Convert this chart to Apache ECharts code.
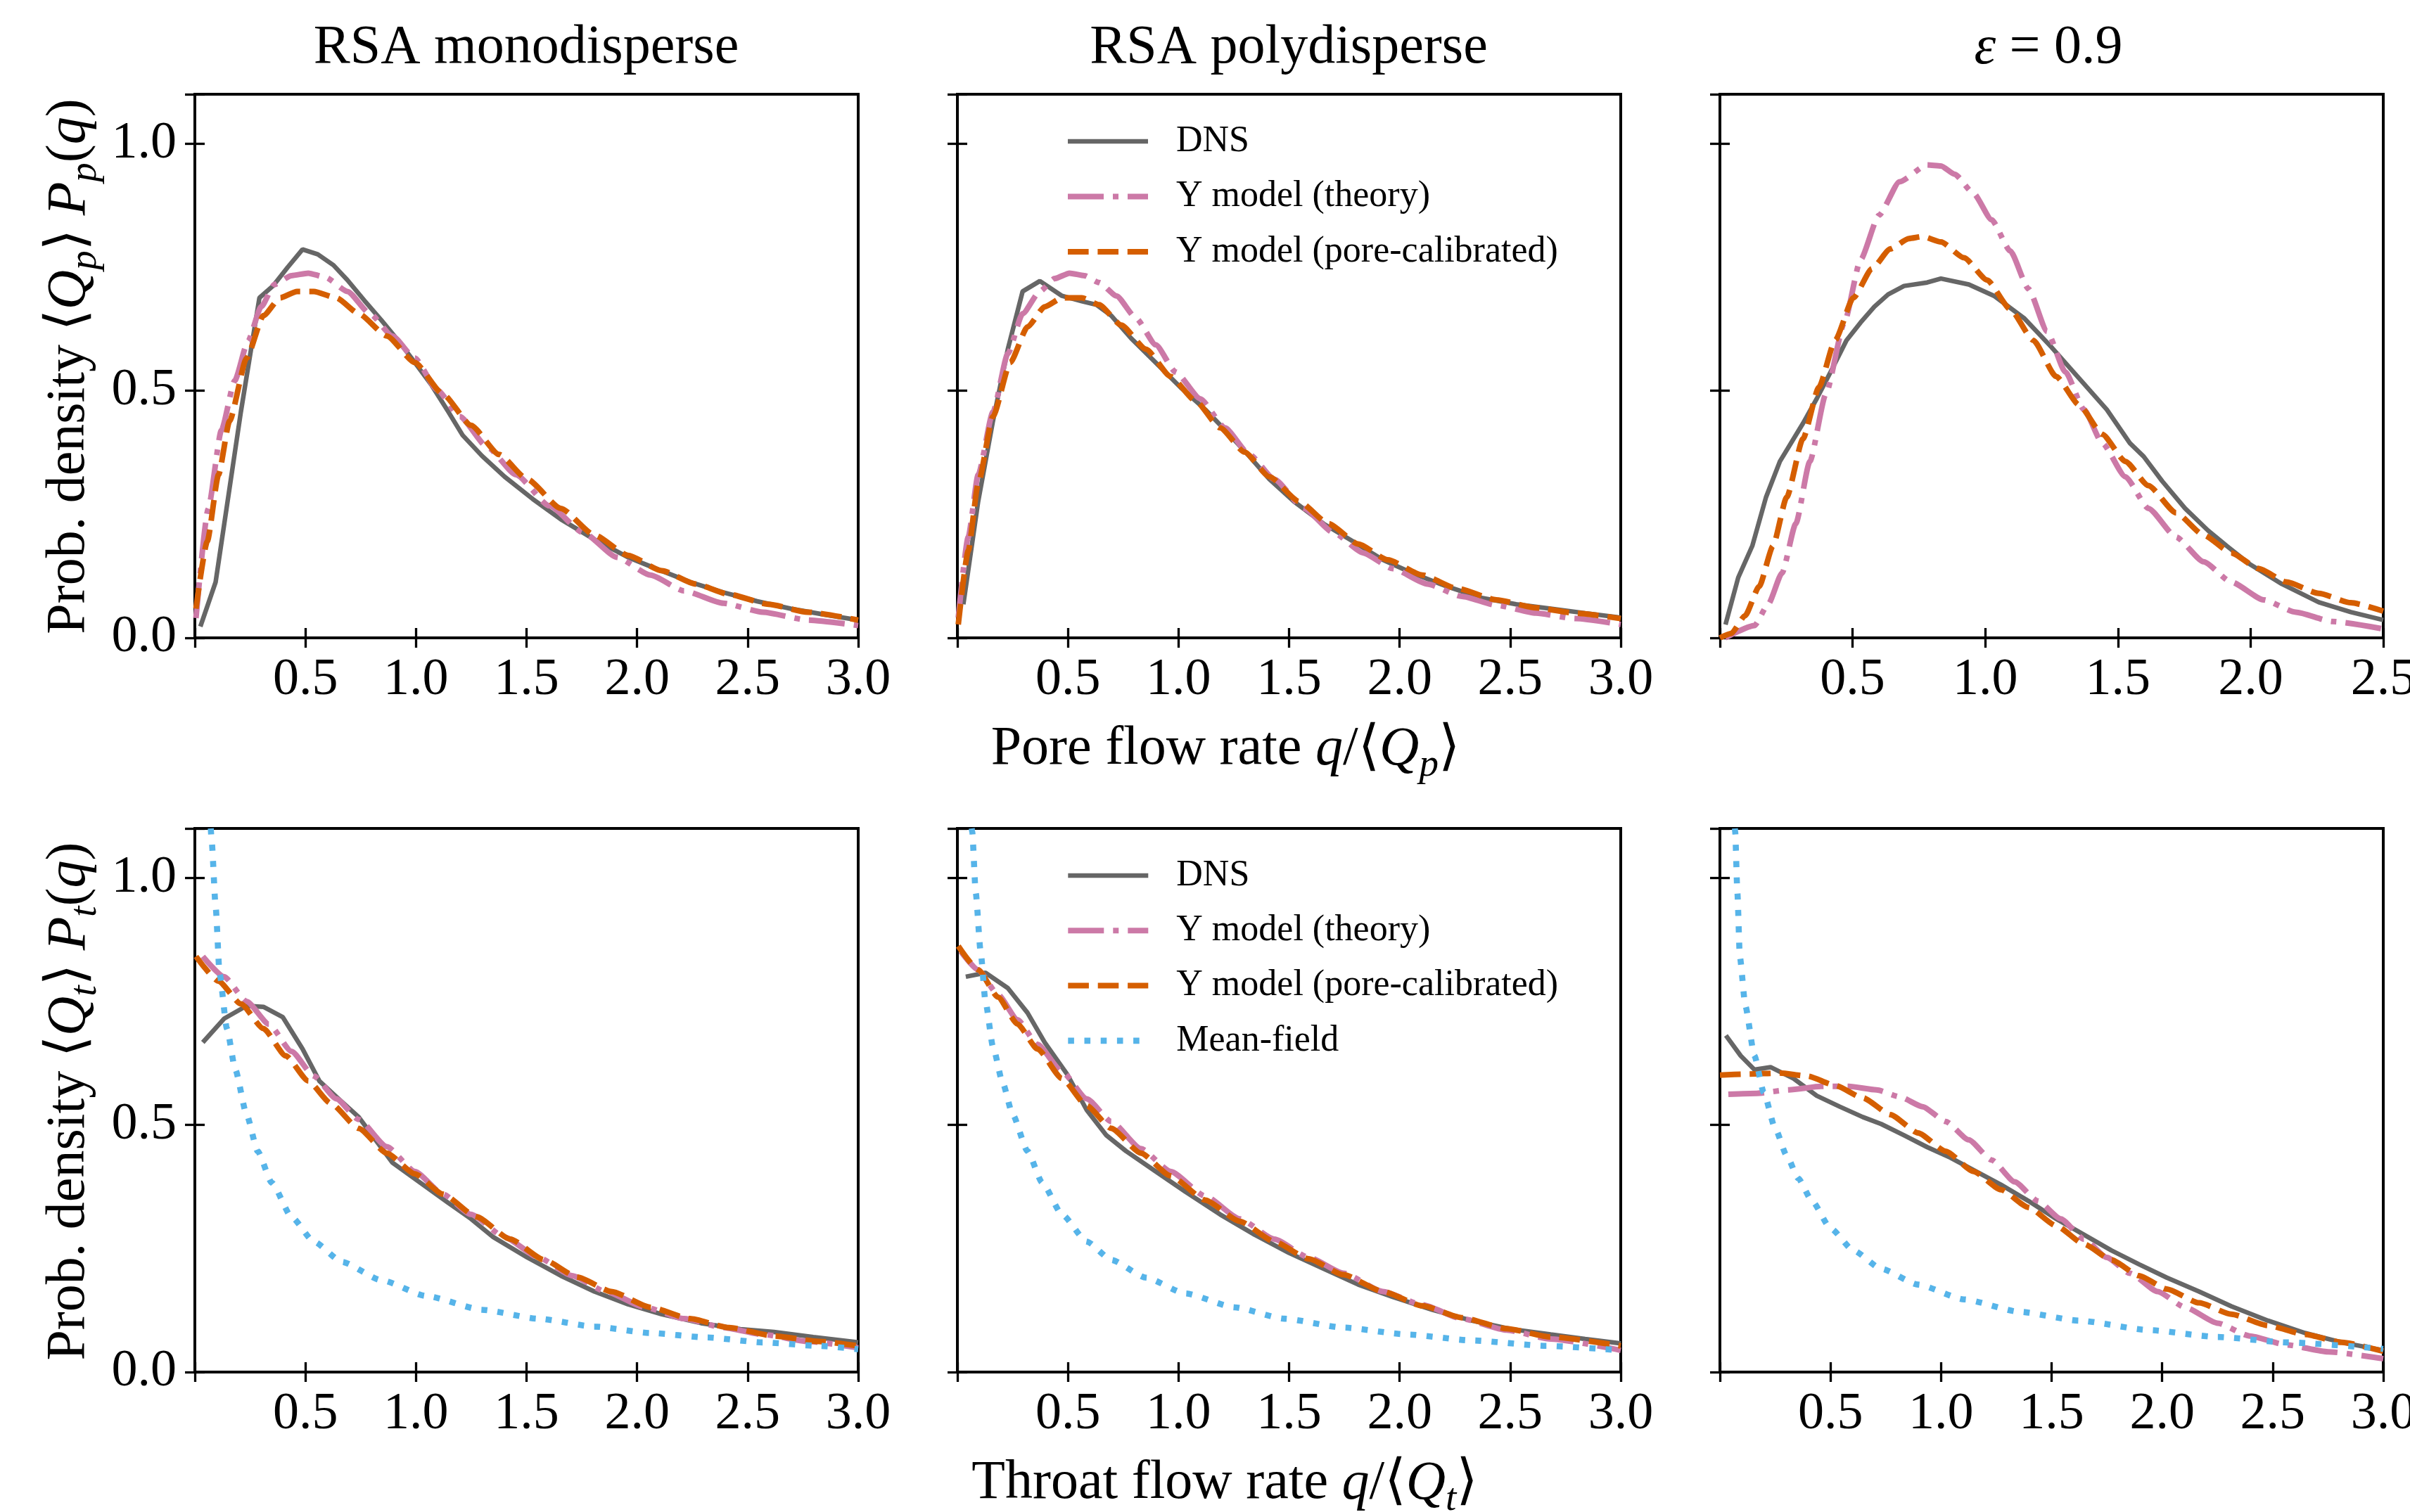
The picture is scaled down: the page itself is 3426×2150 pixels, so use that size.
<!DOCTYPE html>
<html><head><meta charset="utf-8">
<script src="https://cdn.jsdelivr.net/npm/echarts@6/dist/echarts.min.js"></script>
<style>html,body{margin:0;padding:0;background:#fff}#c{width:3426px;height:2150px}</style>
</head><body><div id="c"></div>
<script>
// ---------------- DATA ----------------
const columnTitles = ['RSA monodisperse', 'RSA polydisperse', 'ε = 0.9'];
const seriesNames = ['DNS', 'Y model (theory)', 'Y model (pore-calibrated)', 'Mean-field'];
const xTicksPore = [0.5, 1.0, 1.5, 2.0, 2.5, 3.0];
const yTicks = [0.0, 0.5, 1.0];

// Pore flow rate, RSA monodisperse
const monoPoreDNS = [[0.025,0.023],[0.094,0.113],[0.208,0.457],[0.292,0.688],[0.353,0.712],[0.42,0.75],[0.487,0.786],[0.556,0.776],[0.627,0.754],[0.69,0.724],[0.766,0.683],[0.843,0.643],[0.919,0.602],[0.995,0.557],[1.071,0.511],[1.147,0.457],[1.211,0.41],[1.299,0.368],[1.401,0.326],[1.528,0.281],[1.655,0.24],[1.807,0.199],[1.959,0.163],[2.086,0.14],[2.239,0.113],[2.39,0.092],[2.543,0.074],[2.695,0.059],[2.848,0.047],[3.0,0.036]];
const monoPoreTheory = [[0.005,0.04],[0.06,0.26],[0.12,0.42],[0.18,0.52],[0.24,0.6],[0.3,0.67],[0.36,0.715],[0.437,0.733],[0.513,0.738],[0.589,0.73],[0.69,0.701],[0.792,0.656],[0.893,0.611],[0.995,0.566],[1.096,0.502],[1.198,0.448],[1.325,0.385],[1.452,0.33],[1.604,0.267],[1.756,0.213],[1.909,0.163],[2.061,0.127],[2.213,0.095],[2.39,0.07],[2.569,0.052],[2.772,0.036],[3.0,0.025]];
const monoPoreCalib = [[0.005,0.059],[0.056,0.195],[0.107,0.33],[0.157,0.439],[0.234,0.566],[0.31,0.652],[0.386,0.688],[0.462,0.701],[0.538,0.701],[0.64,0.688],[0.741,0.656],[0.868,0.611],[0.995,0.557],[1.122,0.493],[1.249,0.43],[1.376,0.371],[1.503,0.321],[1.655,0.262],[1.807,0.208],[1.959,0.167],[2.112,0.136],[2.264,0.109],[2.416,0.088],[2.594,0.068],[2.772,0.052],[3.0,0.036]];

// Pore flow rate, RSA polydisperse
const polyPoreDNS = [[0.027,0.068],[0.094,0.276],[0.161,0.439],[0.228,0.584],[0.295,0.701],[0.373,0.722],[0.473,0.692],[0.563,0.681],[0.629,0.674],[0.696,0.652],[0.786,0.606],[0.897,0.557],[1.009,0.507],[1.121,0.462],[1.21,0.421],[1.321,0.367],[1.411,0.321],[1.522,0.276],[1.656,0.231],[1.79,0.195],[1.924,0.158],[2.058,0.131],[2.214,0.104],[2.371,0.081],[2.527,0.068],[2.683,0.059],[2.839,0.05],[3.0,0.041]];
const polyPoreTheory = [[0.004,0.041],[0.049,0.204],[0.094,0.33],[0.161,0.457],[0.228,0.575],[0.295,0.656],[0.373,0.701],[0.44,0.727],[0.507,0.738],[0.574,0.733],[0.641,0.719],[0.719,0.692],[0.808,0.647],[0.897,0.593],[0.987,0.538],[1.098,0.484],[1.21,0.425],[1.321,0.371],[1.433,0.321],[1.567,0.262],[1.701,0.213],[1.835,0.172],[1.969,0.14],[2.125,0.109],[2.281,0.084],[2.438,0.066],[2.616,0.05],[2.795,0.039],[3.0,0.027]];
const polyPoreCalib = [[0.004,0.027],[0.049,0.176],[0.094,0.312],[0.161,0.448],[0.239,0.557],[0.317,0.629],[0.395,0.67],[0.473,0.688],[0.563,0.688],[0.641,0.674],[0.741,0.633],[0.853,0.584],[0.964,0.529],[1.076,0.48],[1.188,0.425],[1.299,0.376],[1.411,0.326],[1.545,0.276],[1.679,0.231],[1.813,0.19],[1.946,0.158],[2.103,0.127],[2.259,0.1],[2.438,0.077],[2.616,0.061],[2.795,0.05],[3.0,0.039]];

// Pore flow rate, eps = 0.9
const epsPoreDNS = [[0.021,0.027],[0.069,0.122],[0.122,0.186],[0.174,0.285],[0.226,0.357],[0.313,0.434],[0.365,0.484],[0.417,0.538],[0.477,0.602],[0.53,0.638],[0.582,0.67],[0.634,0.695],[0.694,0.712],[0.781,0.719],[0.833,0.727],[0.938,0.715],[1.033,0.692],[1.146,0.647],[1.25,0.588],[1.354,0.525],[1.458,0.462],[1.545,0.394],[1.597,0.367],[1.667,0.317],[1.753,0.262],[1.84,0.217],[1.91,0.186],[1.997,0.149],[2.118,0.109],[2.257,0.072],[2.378,0.052],[2.5,0.036]];
const epsPoreTheory = [[0.02,0.0],[0.13,0.025],[0.182,0.068],[0.234,0.131],[0.286,0.231],[0.339,0.357],[0.399,0.493],[0.469,0.638],[0.53,0.765],[0.599,0.855],[0.677,0.923],[0.781,0.957],[0.833,0.955],[0.885,0.938],[0.955,0.9],[1.024,0.846],[1.094,0.783],[1.163,0.706],[1.233,0.62],[1.302,0.538],[1.372,0.462],[1.441,0.394],[1.528,0.326],[1.615,0.262],[1.719,0.204],[1.823,0.154],[1.927,0.113],[2.049,0.077],[2.17,0.052],[2.309,0.033],[2.5,0.018]];
const epsPoreCalib = [[0.0,0.0],[0.043,0.009],[0.095,0.045],[0.148,0.104],[0.2,0.186],[0.252,0.285],[0.313,0.403],[0.373,0.507],[0.434,0.602],[0.503,0.688],[0.573,0.747],[0.642,0.787],[0.712,0.808],[0.764,0.812],[0.833,0.801],[0.92,0.769],[1.007,0.724],[1.094,0.665],[1.181,0.602],[1.267,0.529],[1.354,0.471],[1.441,0.412],[1.528,0.357],[1.615,0.308],[1.719,0.253],[1.823,0.208],[1.927,0.172],[2.031,0.14],[2.135,0.113],[2.257,0.09],[2.378,0.071],[2.5,0.054]];

// Throat flow rate, RSA monodisperse
const monoThroatDNS = [[0.036,0.667],[0.132,0.715],[0.234,0.741],[0.31,0.739],[0.398,0.718],[0.487,0.654],[0.563,0.589],[0.64,0.557],[0.741,0.516],[0.817,0.47],[0.893,0.424],[1.02,0.383],[1.147,0.342],[1.249,0.31],[1.35,0.273],[1.503,0.232],[1.655,0.195],[1.807,0.163],[1.959,0.137],[2.112,0.117],[2.289,0.099],[2.467,0.087],[2.619,0.081],[2.797,0.071],[3.0,0.06]];
const monoThroatTheory = [[0.036,0.841],[0.132,0.8],[0.234,0.75],[0.335,0.704],[0.437,0.649],[0.538,0.599],[0.64,0.553],[0.741,0.511],[0.868,0.456],[0.995,0.406],[1.122,0.36],[1.249,0.319],[1.401,0.273],[1.553,0.232],[1.706,0.195],[1.858,0.163],[2.036,0.131],[2.213,0.108],[2.39,0.09],[2.569,0.076],[2.772,0.062],[3.0,0.049]];
const monoThroatCalib = [[0.005,0.841],[0.107,0.791],[0.208,0.745],[0.31,0.695],[0.411,0.64],[0.513,0.589],[0.614,0.544],[0.741,0.493],[0.868,0.443],[0.995,0.401],[1.122,0.36],[1.274,0.314],[1.426,0.269],[1.579,0.227],[1.731,0.192],[1.883,0.163],[2.061,0.131],[2.239,0.108],[2.416,0.09],[2.619,0.073],[2.822,0.062],[3.0,0.053]];
const monoThroatMF = [[0.072,1.1],[0.076,1.075],[0.094,0.942],[0.112,0.805],[0.145,0.695],[0.183,0.612],[0.234,0.521],[0.284,0.447],[0.348,0.383],[0.437,0.314],[0.538,0.264],[0.665,0.223],[0.843,0.186],[1.046,0.154],[1.299,0.126],[1.553,0.108],[1.807,0.092],[2.061,0.079],[2.315,0.07],[2.569,0.06],[2.822,0.053],[3.0,0.046]];

// Throat flow rate, RSA polydisperse
const polyThroatDNS = [[0.038,0.8],[0.127,0.808],[0.228,0.777],[0.317,0.727],[0.395,0.667],[0.496,0.603],[0.585,0.53],[0.674,0.479],[0.763,0.447],[0.897,0.406],[1.031,0.365],[1.188,0.319],[1.344,0.278],[1.5,0.241],[1.656,0.209],[1.813,0.177],[1.969,0.152],[2.147,0.126],[2.326,0.104],[2.504,0.087],[2.683,0.076],[2.839,0.067],[3.0,0.058]];
const polyThroatTheory = [[0.016,0.851],[0.094,0.814],[0.183,0.764],[0.272,0.713],[0.362,0.663],[0.473,0.608],[0.585,0.553],[0.696,0.507],[0.83,0.452],[0.964,0.406],[1.121,0.356],[1.277,0.31],[1.433,0.269],[1.589,0.232],[1.746,0.2],[1.924,0.163],[2.103,0.136],[2.281,0.108],[2.482,0.085],[2.683,0.067],[3.0,0.044]];
const polyThroatCalib = [[0.004,0.862],[0.094,0.814],[0.183,0.759],[0.272,0.704],[0.362,0.654],[0.473,0.594],[0.585,0.539],[0.696,0.493],[0.83,0.443],[0.964,0.397],[1.121,0.348],[1.277,0.305],[1.433,0.264],[1.589,0.229],[1.746,0.197],[1.924,0.163],[2.103,0.134],[2.281,0.11],[2.482,0.088],[2.683,0.071],[3.0,0.053]];
const polyThroatMF = [[0.065,1.1],[0.067,1.093],[0.083,0.97],[0.105,0.851],[0.127,0.75],[0.161,0.658],[0.205,0.585],[0.25,0.521],[0.317,0.447],[0.384,0.383],[0.473,0.319],[0.585,0.264],[0.696,0.227],[0.853,0.191],[1.031,0.159],[1.254,0.131],[1.478,0.108],[1.746,0.09],[2.036,0.076],[2.326,0.064],[2.661,0.053],[3.0,0.044]];

// Throat flow rate, eps = 0.9
const epsThroatDNS = [[0.027,0.681],[0.094,0.64],[0.156,0.612],[0.229,0.617],[0.333,0.594],[0.438,0.559],[0.542,0.537],[0.646,0.516],[0.729,0.502],[0.833,0.479],[0.938,0.455],[1.042,0.434],[1.146,0.409],[1.271,0.379],[1.396,0.346],[1.521,0.31],[1.646,0.278],[1.771,0.246],[1.896,0.218],[2.021,0.191],[2.167,0.163],[2.313,0.133],[2.479,0.104],[2.646,0.079],[2.813,0.06],[3.0,0.044]];
const epsThroatTheory = [[0.038,0.562],[0.167,0.564],[0.313,0.571],[0.458,0.578],[0.583,0.578],[0.708,0.571],[0.813,0.557],[0.917,0.537],[1.021,0.507],[1.125,0.47],[1.229,0.429],[1.333,0.385],[1.438,0.346],[1.542,0.31],[1.646,0.269],[1.75,0.232],[1.854,0.2],[1.979,0.163],[2.104,0.131],[2.25,0.099],[2.396,0.073],[2.563,0.055],[2.75,0.041],[3.0,0.027]];
const epsThroatCalib = [[0.0,0.601],[0.125,0.603],[0.271,0.605],[0.396,0.599],[0.521,0.58],[0.646,0.555],[0.771,0.521],[0.896,0.484],[1.021,0.447],[1.146,0.406],[1.271,0.369],[1.396,0.333],[1.521,0.296],[1.646,0.259],[1.771,0.227],[1.896,0.195],[2.021,0.168],[2.167,0.14],[2.313,0.117],[2.479,0.094],[2.646,0.076],[2.813,0.06],[3.0,0.042]];
const epsThroatMF = [[0.068,1.1],[0.069,1.093],[0.079,0.97],[0.09,0.841],[0.115,0.741],[0.156,0.64],[0.198,0.566],[0.25,0.493],[0.302,0.438],[0.354,0.392],[0.417,0.346],[0.5,0.291],[0.604,0.246],[0.729,0.209],[0.896,0.177],[1.104,0.147],[1.354,0.122],[1.625,0.104],[1.938,0.085],[2.25,0.071],[2.563,0.06],[3.0,0.047]];

// ---------------- CHART ----------------
const FONT = '"Liberation Serif", "DejaVu Serif", serif';
const styles = {
  'DNS': {color: '#666666', width: 6.5, type: 'solid', smooth: false},
  'Y model (theory)': {color: '#CC79A7', width: 8, type: [51, 13, 8, 13], smooth: 0.2},
  'Y model (pore-calibrated)': {color: '#D55E00', width: 8, type: [29.6, 12.8], smooth: 0.2},
  'Mean-field': {color: '#56B4E9', width: 8.6, type: [8.6, 14.6], smooth: 0.2}
};
const panels = [
  {col: 0, row: 0, xMax: 3.0, data: [monoPoreDNS, monoPoreTheory, monoPoreCalib]},
  {col: 1, row: 0, xMax: 3.0, data: [polyPoreDNS, polyPoreTheory, polyPoreCalib]},
  {col: 2, row: 0, xMax: 2.5, data: [epsPoreDNS, epsPoreTheory, epsPoreCalib]},
  {col: 0, row: 1, xMax: 3.0, data: [monoThroatDNS, monoThroatTheory, monoThroatCalib, monoThroatMF]},
  {col: 1, row: 1, xMax: 3.0, data: [polyThroatDNS, polyThroatTheory, polyThroatCalib, polyThroatMF]},
  {col: 2, row: 1, xMax: 3.0, data: [epsThroatDNS, epsThroatTheory, epsThroatCalib, epsThroatMF]}
];
const colLeft = [277, 1361, 2445];
const rowTop = [134, 1178];
const gW = 943, gH = 773;

const grids = [], xAxes = [], yAxes = [], series = [];
const tickStyle = {inside: true, length: 14, lineStyle: {color: '#000', width: 3.3}};
const labelBase = {fontSize: 74, fontFamily: FONT, color: '#000'};
panels.forEach((p, i) => {
  grids.push({left: colLeft[p.col], top: rowTop[p.row], width: gW, height: gH,
    show: true, borderColor: '#000', borderWidth: 4, backgroundColor: 'transparent',
    containLabel: false, outerBoundsMode: 'none'});
  const xb = {gridIndex: i, type: 'value', min: 0, max: p.xMax, interval: 0.5,
    axisLine: {show: false}, splitLine: {show: false}, axisTick: tickStyle};
  xAxes.push(Object.assign({}, xb, {position: 'bottom',
    axisLabel: Object.assign({}, labelBase, {margin: 24, hideOverlap: false,
      formatter: v => (xTicksPore.some(t => Math.abs(t - v) < 1e-9) ? v.toFixed(1) : '')})}));
  xAxes.push(Object.assign({}, xb, {position: 'top', axisLabel: {show: false}}));
  const yb = {gridIndex: i, type: 'value', min: 0, max: 1.1, interval: 0.5,
    axisLine: {show: false}, splitLine: {show: false}, axisTick: tickStyle};
  yAxes.push(Object.assign({}, yb, {position: 'left',
    axisLabel: Object.assign({}, labelBase, {show: p.col === 0, margin: 26, hideOverlap: false,
      formatter: v => (yTicks.some(t => Math.abs(t - v) < 1e-9) ? v.toFixed(1) : '')})}));
  yAxes.push(Object.assign({}, yb, {position: 'right', axisLabel: {show: false}}));
  p.data.forEach((d, k) => {
    const name = seriesNames[k];
    const st = styles[name];
    series.push({type: 'line', name: name, xAxisIndex: 2 * i, yAxisIndex: 2 * i, data: d,
      symbol: 'none', showSymbol: false, smooth: st.smooth, smoothMonotone: 'x', clip: true, silent: true,
      lineStyle: {color: st.color, width: st.width, type: st.type, cap: 'butt'},
      itemStyle: {color: st.color}});
  });
});

const legendText = {fontSize: 52, fontFamily: FONT, color: '#000', lineHeight: 60, padding: [0, 0, 0, 35]};
function legendItems(n) {
  return seriesNames.slice(0, n).map(nm => ({
    name: nm,
    lineStyle: {width: styles[nm].width, type: styles[nm].type, color: styles[nm].color, cap: 'butt'},
    itemStyle: {color: 'rgba(0,0,0,0)', borderColor: 'rgba(0,0,0,0)', borderWidth: 0}
  }));
}
const legends = [
  {data: legendItems(3), orient: 'vertical', left: 1514, top: 171, itemWidth: 114, itemHeight: 20,
   itemGap: 18.5, textStyle: legendText, selectedMode: false, padding: 0},
  {data: legendItems(4), orient: 'vertical', left: 1514, top: 1215, itemWidth: 114, itemHeight: 20,
   itemGap: 18.3, textStyle: legendText, selectedMode: false, padding: 0}
];

const rich = {
  n: {fontFamily: FONT, fontSize: 78, lineHeight: 100, fill: '#000'},
  i: {fontFamily: FONT, fontSize: 78, lineHeight: 100, fontStyle: 'italic', fill: '#000'},
  s: {fontFamily: FONT, fontSize: 55, lineHeight: 50, fontStyle: 'italic', verticalAlign: 'bottom', fill: '#000'}
};
function txt(x, y, text, rot) {
  return {type: 'text', x: x, y: y, rotation: rot || 0, silent: true,
    style: {text: text, rich: rich, align: 'center', verticalAlign: 'middle', fill: '#000'}};
}
const graphics = [
  txt(748, 69, '{n|' + columnTitles[0] + '}'),
  txt(1832, 69, '{n|' + columnTitles[1] + '}'),
  txt(2912, 69, '{i|ε}{n| = 0.9}'),
  txt(1742, 1066, '{n|Pore flow rate }{i|q}{n|/⟨}{i|Q}{s|p}{n|⟩}'),
  txt(1741, 2110, '{n|Throat flow rate }{i|q}{n|/⟨}{i|Q}{s|t}{n|⟩}'),
  txt(99, 521, '{n|Prob. density ⟨}{i|Q}{s|p}{n|⟩ }{i|P}{s|p}{n|(}{i|q}{n|)}', Math.PI / 2),
  txt(99, 1566, '{n|Prob. density ⟨}{i|Q}{s|t}{n|⟩ }{i|P}{s|t}{n|(}{i|q}{n|)}', Math.PI / 2)
];

const chart = echarts.init(document.getElementById('c'), null, {renderer: 'canvas', width: 3426, height: 2150});
chart.setOption({
  animation: false,
  backgroundColor: '#ffffff',
  grid: grids, xAxis: xAxes, yAxis: yAxes, series: series,
  legend: legends, graphic: graphics
});
</script></body></html>
